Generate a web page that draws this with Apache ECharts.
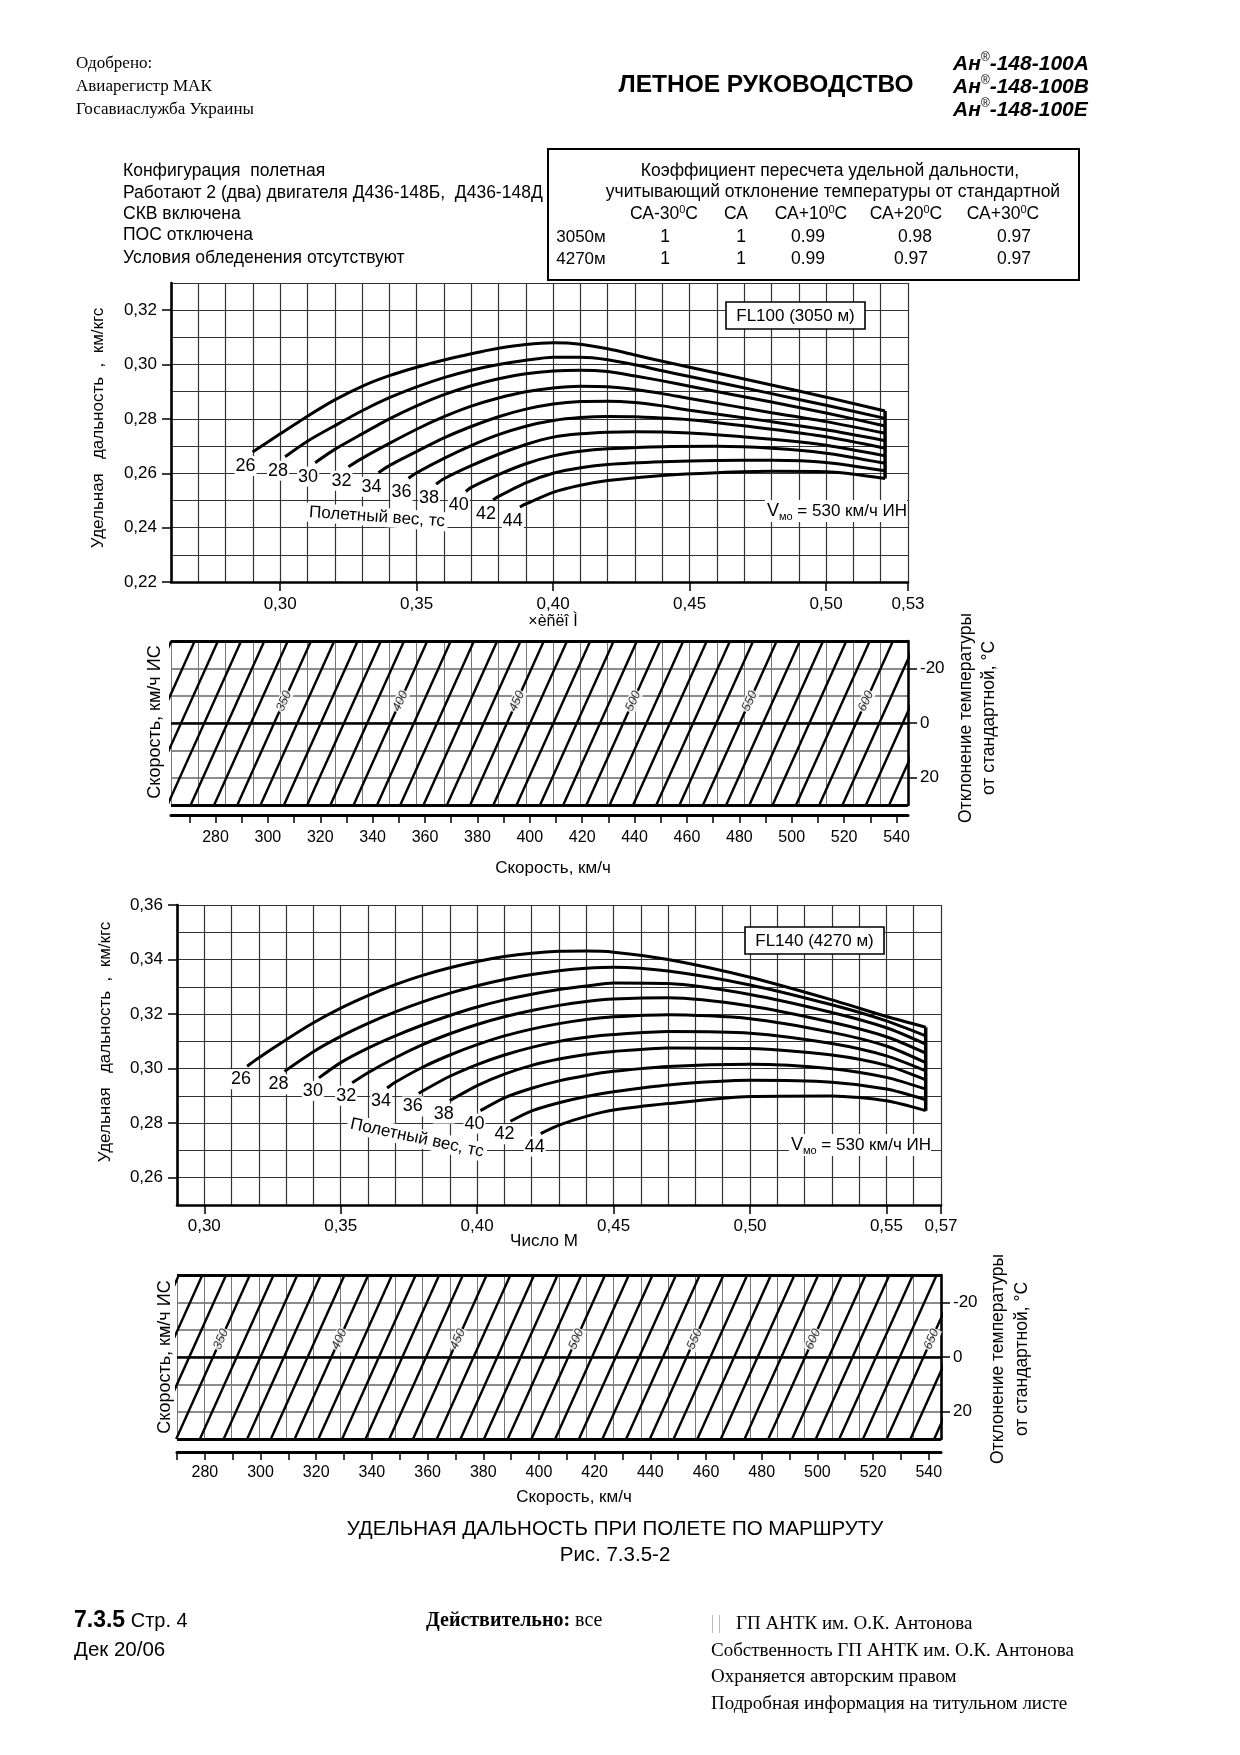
<!DOCTYPE html>
<html><head><meta charset="utf-8">
<script src="https://cdn.jsdelivr.net/npm/echarts@6/dist/echarts.min.js"></script>
<style>html,body{margin:0;padding:0;background:#fff}#c{width:1240px;height:1755px}</style>
</head><body><div id="c"></div>
<script>
// ---------- DATA ----------
const weightsTs = [26,28,30,32,34,36,38,40,42,44];

// FL100 (3050 m): [Mach, specific range km/kgf]
const fl100W26 = [[0.2899,0.2678],[0.30,0.2745],[0.31,0.2810],[0.32,0.2870],[0.33,0.2920],[0.34,0.2959],[0.35,0.2990],[0.36,0.3017],[0.37,0.3040],[0.38,0.3060],[0.39,0.3074],[0.40,0.3080],[0.41,0.3075],[0.42,0.3058],[0.43,0.3035],[0.44,0.3012],[0.45,0.2990],[0.48,0.2925],[0.50,0.2880],[0.5216,0.2829]];
const fl100W28 = [[0.3018,0.2661],[0.31,0.2718],[0.32,0.2775],[0.33,0.2830],[0.34,0.2878],[0.35,0.2918],[0.36,0.2952],[0.37,0.2979],[0.38,0.3000],[0.39,0.3016],[0.40,0.3027],[0.41,0.3027],[0.42,0.3018],[0.43,0.2999],[0.44,0.2977],[0.45,0.2956],[0.48,0.2893],[0.50,0.2850],[0.5216,0.2802]];
const fl100W30 = [[0.3128,0.2639],[0.32,0.2688],[0.33,0.2745],[0.34,0.2800],[0.35,0.2848],[0.36,0.2889],[0.37,0.2922],[0.38,0.2948],[0.39,0.2966],[0.40,0.2976],[0.41,0.2979],[0.42,0.2974],[0.43,0.2958],[0.44,0.2940],[0.45,0.2920],[0.48,0.2862],[0.50,0.2822],[0.5216,0.2774]];
const fl100W32 = [[0.3250,0.2624],[0.33,0.2655],[0.34,0.2710],[0.35,0.2762],[0.36,0.2808],[0.37,0.2847],[0.38,0.2877],[0.39,0.2900],[0.40,0.2914],[0.41,0.2920],[0.42,0.2918],[0.43,0.2908],[0.44,0.2893],[0.45,0.2875],[0.48,0.2823],[0.50,0.2790],[0.5216,0.2747]];
const fl100W34 = [[0.3360,0.2602],[0.34,0.2628],[0.35,0.2680],[0.36,0.2730],[0.37,0.2772],[0.38,0.2808],[0.39,0.2836],[0.40,0.2855],[0.41,0.2864],[0.42,0.2865],[0.43,0.2860],[0.44,0.2848],[0.45,0.2832],[0.48,0.2790],[0.50,0.2760],[0.5216,0.2720]];
const fl100W36 = [[0.3470,0.2582],[0.35,0.2602],[0.36,0.2655],[0.37,0.2702],[0.38,0.2742],[0.39,0.2773],[0.40,0.2794],[0.41,0.2805],[0.42,0.2809],[0.43,0.2808],[0.45,0.2797],[0.48,0.2762],[0.50,0.2734],[0.5216,0.2692]];
const fl100W38 = [[0.3571,0.2560],[0.36,0.2580],[0.37,0.2628],[0.38,0.2670],[0.39,0.2706],[0.40,0.2733],[0.41,0.2745],[0.42,0.2751],[0.43,0.2753],[0.45,0.2748],[0.48,0.2725],[0.50,0.2703],[0.5216,0.2664]];
const fl100W40 = [[0.3680,0.2533],[0.37,0.2548],[0.38,0.2595],[0.39,0.2635],[0.40,0.2664],[0.41,0.2681],[0.42,0.2690],[0.44,0.2698],[0.46,0.2699],[0.48,0.2692],[0.50,0.2674],[0.5216,0.2637]];
const fl100W42 = [[0.3780,0.2502],[0.38,0.2515],[0.39,0.2565],[0.40,0.2600],[0.41,0.2620],[0.42,0.2632],[0.44,0.2642],[0.46,0.2647],[0.48,0.2648],[0.50,0.2640],[0.5216,0.2609]];
const fl100W44 = [[0.3878,0.2476],[0.39,0.2487],[0.40,0.2530],[0.41,0.2556],[0.42,0.2573],[0.44,0.2592],[0.46,0.2602],[0.48,0.2607],[0.50,0.2606],[0.5216,0.2581]];

// FL140 (4270 m)
const fl140W26 = [[0.3157,0.3009],[0.32,0.3040],[0.33,0.3106],[0.34,0.3168],[0.35,0.3222],[0.36,0.3268],[0.37,0.3308],[0.38,0.3342],[0.39,0.3370],[0.40,0.3393],[0.41,0.3411],[0.42,0.3423],[0.43,0.3430],[0.44,0.3431],[0.45,0.3427],[0.47,0.3400],[0.50,0.3335],[0.53,0.3252],[0.55,0.3191],[0.5644,0.3152]];
const fl140W28 = [[0.3294,0.2990],[0.34,0.3062],[0.35,0.3118],[0.36,0.3166],[0.37,0.3208],[0.38,0.3245],[0.39,0.3277],[0.40,0.3304],[0.41,0.3327],[0.42,0.3345],[0.43,0.3359],[0.44,0.3368],[0.45,0.3372],[0.47,0.3358],[0.50,0.3307],[0.53,0.3234],[0.55,0.3175],[0.5644,0.3120]];
const fl140W30 = [[0.3420,0.2966],[0.35,0.3022],[0.36,0.3075],[0.37,0.3120],[0.38,0.3160],[0.39,0.3195],[0.40,0.3226],[0.41,0.3252],[0.42,0.3273],[0.43,0.3290],[0.44,0.3303],[0.45,0.3314],[0.47,0.3312],[0.50,0.3272],[0.53,0.3206],[0.55,0.3150],[0.5644,0.3090]];
const fl140W32 = [[0.3542,0.2948],[0.36,0.2985],[0.37,0.3040],[0.38,0.3088],[0.39,0.3128],[0.40,0.3162],[0.41,0.3190],[0.42,0.3213],[0.43,0.3232],[0.44,0.3246],[0.45,0.3255],[0.47,0.3260],[0.50,0.3230],[0.53,0.3170],[0.55,0.3117],[0.5644,0.3057]];
const fl140W34 = [[0.3670,0.2929],[0.37,0.2950],[0.38,0.3005],[0.39,0.3050],[0.40,0.3088],[0.41,0.3120],[0.42,0.3145],[0.43,0.3165],[0.44,0.3180],[0.45,0.3190],[0.47,0.3198],[0.50,0.3183],[0.53,0.3133],[0.55,0.3083],[0.5644,0.3022]];
const fl140W36 = [[0.3786,0.2909],[0.38,0.2918],[0.39,0.2972],[0.40,0.3015],[0.41,0.3050],[0.42,0.3078],[0.43,0.3100],[0.44,0.3115],[0.45,0.3125],[0.47,0.3136],[0.50,0.3130],[0.53,0.3092],[0.55,0.3047],[0.5644,0.2992]];
const fl140W38 = [[0.3900,0.2883],[0.40,0.2938],[0.41,0.2980],[0.42,0.3012],[0.43,0.3035],[0.44,0.3052],[0.45,0.3063],[0.47,0.3076],[0.50,0.3074],[0.53,0.3050],[0.55,0.3012],[0.5644,0.2959]];
const fl140W40 = [[0.4012,0.2846],[0.41,0.2893],[0.42,0.2928],[0.43,0.2955],[0.44,0.2975],[0.45,0.2990],[0.47,0.3008],[0.50,0.3016],[0.53,0.3000],[0.55,0.2968],[0.5644,0.2925]];
const fl140W42 = [[0.4122,0.2807],[0.42,0.2845],[0.43,0.2875],[0.44,0.2898],[0.45,0.2915],[0.47,0.2940],[0.50,0.2957],[0.53,0.2950],[0.55,0.2925],[0.5644,0.2886]];
const fl140W44 = [[0.4233,0.2762],[0.43,0.2793],[0.44,0.2825],[0.45,0.2848],[0.47,0.2872],[0.50,0.2898],[0.53,0.2900],[0.55,0.2882],[0.5644,0.2846]];

// true-speed isolines of the temperature nomograms: Mach at dT = -30 and dT = +30
const tasTop = [290,300,310,320,330,340,350,360,370,380,390,400,410,420,430,440,450,460,470,480,490,500,510,520,530,540,550,560,570,580,590,600,610,620,630];
const machTopMinus30 = [0.2601,0.2687,0.2772,0.2857,0.2942,0.3028,0.3113,0.3198,0.3284,0.3369,0.3454,0.3539,0.3625,0.3710,0.3795,0.3881,0.3966,0.4051,0.4136,0.4222,0.4307,0.4392,0.4477,0.4563,0.4648,0.4733,0.4819,0.4904,0.4989,0.5074,0.5160,0.5245,0.5330,0.5416,0.5501];
const machTopPlus30 = [0.2331,0.2417,0.2502,0.2587,0.2672,0.2758,0.2843,0.2928,0.3014,0.3099,0.3184,0.3269,0.3355,0.3440,0.3525,0.3611,0.3696,0.3781,0.3866,0.3952,0.4037,0.4122,0.4207,0.4293,0.4378,0.4463,0.4549,0.4634,0.4719,0.4804,0.4890,0.4975,0.5060,0.5146,0.5231];
const tasTopLabels = [350,400,450,500,550,600];

const tasBot = [320,330,340,350,360,370,380,390,400,410,420,430,440,450,460,470,480,490,500,510,520,530,540,550,560,570,580,590,600,610,620,630,640,650,660,670];
const machBotMinus30 = [0.2907,0.2993,0.3080,0.3167,0.3254,0.3341,0.3427,0.3514,0.3601,0.3688,0.3775,0.3861,0.3948,0.4035,0.4122,0.4209,0.4295,0.4382,0.4469,0.4556,0.4643,0.4729,0.4816,0.4903,0.4990,0.5077,0.5163,0.5250,0.5337,0.5424,0.5511,0.5597,0.5684,0.5771,0.5858,0.5945];
const machBotPlus30 = [0.2637,0.2723,0.2810,0.2897,0.2984,0.3071,0.3157,0.3244,0.3331,0.3418,0.3505,0.3591,0.3678,0.3765,0.3852,0.3939,0.4025,0.4112,0.4199,0.4286,0.4373,0.4459,0.4546,0.4633,0.4720,0.4807,0.4893,0.4980,0.5067,0.5154,0.5241,0.5327,0.5414,0.5501,0.5588,0.5675];
const tasBotLabels = [350,400,450,500,550,600,650];

// tick / label values
const machLabelsTop = [0.30,0.35,0.40,0.45,0.50,0.53];
const srLabelsTop = [0.22,0.24,0.26,0.28,0.30,0.32];
const machLabelsBot = [0.30,0.35,0.40,0.45,0.50,0.55,0.57];
const srLabelsBot = [0.26,0.28,0.30,0.32,0.34,0.36];
const tempLabels = [-20,0,20];
const speedTicks = [270,280,290,300,310,320,330,340,350,360,370,380,390,400,410,420,430,440,450,460,470,480,490,500,510,520,530,540];
const speedLabels = [280,300,320,340,360,380,400,420,440,460,480,500,520,540];

// ---------- CHART ----------
const F = "'Liberation Sans', Arial, sans-serif";
const FS = "'Liberation Serif', 'Times New Roman', serif";
const fmt2 = v => v.toFixed(2).replace('.', ',');

const fl100Curves = [fl100W26,fl100W28,fl100W30,fl100W32,fl100W34,fl100W36,fl100W38,fl100W40,fl100W42,fl100W44];
const fl140Curves = [fl140W26,fl140W28,fl140W30,fl140W32,fl140W34,fl140W36,fl140W38,fl140W40,fl140W42,fl140W44];

const G = [
  {left:171, top:283, width:737, height:299, min:0.26, max:0.53},
  {left:171, top:641, width:737, height:164, min:0.26, max:0.53},
  {left:171, top:814, width:737, height:1},
  {left:177, top:905, width:764, height:300, min:0.29, max:0.57},
  {left:177, top:1275, width:764, height:164, min:0.29, max:0.57},
  {left:177, top:1451, width:764, height:1}
];

function gridAxis(gi, min, max, interval, pos, color, width, extra) {
  return Object.assign({type:'value', gridIndex:gi, min, max, interval, position:pos,
    axisLine:{show:false}, axisTick:{show:false}, axisLabel:{show:false},
    splitLine:{show:true, lineStyle:{color, width}}}, extra||{});
}
function labelAxis(gi, min, max, pos, labels, fmt, margin, extra) {
  return Object.assign({type:'value', gridIndex:gi, min, max, position:pos,
    axisLine:{show:true, onZero:false, lineStyle:{color:'#000', width:2.6}},
    axisTick:{show:true, customValues:labels, length:9, lineStyle:{color:'#000', width:1.5}},
    axisLabel:{show:true, customValues:labels, formatter:fmt, fontFamily:F, fontSize:17, color:'#000', margin},
    splitLine:{show:false}}, extra||{});
}
function speedX(gi, min, max, margin) {
  return {type:'value', gridIndex:gi, min, max, position:'bottom',
    axisLine:{show:true, onZero:false, lineStyle:{color:'#000', width:3}},
    axisTick:{show:true, customValues:speedTicks, length:8, lineStyle:{color:'#000', width:1.5}},
    axisLabel:{show:true, customValues:speedLabels, fontFamily:F, fontSize:16, color:'#000', margin},
    splitLine:{show:false}};
}
function hiddenY(gi) {
  return {type:'value', gridIndex:gi, min:0, max:1, show:false};
}
const noFmt = v => String(v);

function curveSeries(curves, xi, yi, off) {
  const out = [];
  curves.forEach((pts, i) => {
    out.push({type:'line', xAxisIndex:xi, yAxisIndex:yi, data:pts, smooth:0.25, showSymbol:false, silent:true, z:5,
      lineStyle:{color:'#000', width:3},
      markPoint:{symbol:'circle', symbolSize:1, silent:true, itemStyle:{color:'rgba(0,0,0,0)'},
        data:[{coord:pts[0], value:weightsTs[i]}],
        label:{show:true, formatter:String(weightsTs[i]), offset:off, fontFamily:F, fontSize:18, color:'#000',
          backgroundColor:'#fff', padding:[1,1]}}});
  });
  const a = curves[0][curves[0].length-1];
  const b = curves[curves.length-1][curves[curves.length-1].length-1];
  out.push({type:'line', xAxisIndex:xi, yAxisIndex:yi, data:[a, b], showSymbol:false, silent:true, z:5,
    lineStyle:{color:'#000', width:3.5}});
  return out;
}

function hatchSeries(tas, cold, hot, labels, xi, yi, tLab, g) {
  const out = [];
  tas.forEach((v, i) => {
    const s = {type:'line', xAxisIndex:xi, yAxisIndex:yi, data:[[cold[i],-30],[hot[i],30]], showSymbol:false, silent:true, z:3,
      lineStyle:{color:'#000', width:2.4}};
    if (i === 0) {
      s.markLine = {symbol:'none', silent:true, label:{show:false}, lineStyle:{color:'#000', type:'solid'},
        data:[{yAxis:0, lineStyle:{width:2.6}}, {yAxis:-30, lineStyle:{width:3}}, {yAxis:30, lineStyle:{width:3}}]};
    }
    out.push(s);
  });
  const pxM = g.width/(g.max-g.min), pxT = g.height/60;
  const data = labels.map(v => {
    const i = tas.indexOf(v);
    const f = (tLab + 30)/60;
    const m = cold[i] + (hot[i]-cold[i])*f;
    const ang = Math.atan2(60*pxT, (cold[i]-hot[i])*pxM)*180/Math.PI;
    return {name:String(v), value:[m, tLab], label:{rotate:ang}};
  });
  out.push({type:'scatter', xAxisIndex:xi, yAxisIndex:yi, data, symbolSize:1, silent:true, z:6,
    itemStyle:{color:'rgba(0,0,0,0)'},
    label:{show:true, position:'inside', formatter:p => p.name, fontFamily:F, fontSize:12.5, fontStyle:'italic',
      color:'#000', backgroundColor:'#fff', padding:[0,1]}});
  return out;
}

// ----- graphic helpers -----
function T(x, y, text, o) {
  o = o || {};
  return {type:'text', x, y, rotation:o.rot||0, z:100, silent:true,
    style:Object.assign({text, fill:'#000', fontFamily:F, fontSize:17.5, align:'left', verticalAlign:'middle'}, o.style||{})};
}
const sup = {fontSize:11, verticalAlign:'top', lineHeight:19, fontFamily:F};
const nrm = {fontSize:17.5, lineHeight:19, fontFamily:F};
const hdrRich = {a:{fontSize:21, fontWeight:'bold', fontStyle:'italic', fontFamily:F, lineHeight:24}, r:{fontSize:12, fontStyle:'italic', verticalAlign:'top', lineHeight:20, fontFamily:F}};
const vmoRich = {v:{fontSize:18, lineHeight:22, fontFamily:F}, s:{fontSize:11, verticalAlign:'bottom', lineHeight:22, fontFamily:F}, t:{fontSize:17, lineHeight:22, fontFamily:F}};
const graphics = [
  // header
  T(76, 64, 'Одобрено:', {style:{fontFamily:FS, fontSize:17}}),
  T(76, 87, 'Авиарегистр МАК', {style:{fontFamily:FS, fontSize:17}}),
  T(76, 110, 'Госавиаслужба Украины', {style:{fontFamily:FS, fontSize:17}}),
  T(766, 85, 'ЛЕТНОЕ РУКОВОДСТВО', {style:{fontSize:24.5, fontWeight:'bold', align:'center'}}),
  T(953, 64, '{a|Ан}{r|®}{a|-148-100А}', {style:{rich:hdrRich}}),
  T(953, 87, '{a|Ан}{r|®}{a|-148-100В}', {style:{rich:hdrRich}}),
  T(953, 110, '{a|Ан}{r|®}{a|-148-100Е}', {style:{rich:hdrRich}}),
  // info block
  T(123, 171, 'Конфигурация  полетная'),
  T(123, 193, 'Работают 2 (два) двигателя Д436-148Б,  Д436-148Д'),
  T(123, 214, 'СКВ включена'),
  T(123, 235, 'ПОС отключена'),
  T(123, 258, 'Условия обледенения отсутствуют'),
  // table
  {type:'rect', shape:{x:548, y:149, width:531, height:131}, style:{fill:'none', stroke:'#000', lineWidth:2}, z:99, silent:true},
  T(830, 171, 'Коэффициент пересчета удельной дальности,', {style:{align:'center'}}),
  T(833, 192, 'учитывающий отклонение температуры от стандартной', {style:{align:'center'}}),
  T(664, 214, '{a|СА-30}{s|0}{a|С}', {style:{align:'center', rich:{a:nrm, s:sup}}}),
  T(736, 214, 'СА', {style:{align:'center'}}),
  T(811, 214, '{a|СА+10}{s|0}{a|С}', {style:{align:'center', rich:{a:nrm, s:sup}}}),
  T(906, 214, '{a|СА+20}{s|0}{a|С}', {style:{align:'center', rich:{a:nrm, s:sup}}}),
  T(1003, 214, '{a|СА+30}{s|0}{a|С}', {style:{align:'center', rich:{a:nrm, s:sup}}}),
  T(581, 237, '3050м', {style:{align:'center', fontSize:17}}),
  T(665, 237, '1', {style:{align:'center'}}), T(741, 237, '1', {style:{align:'center'}}),
  T(808, 237, '0.99', {style:{align:'center'}}), T(915, 237, '0.98', {style:{align:'center'}}), T(1014, 237, '0.97', {style:{align:'center'}}),
  T(581, 259, '4270м', {style:{align:'center', fontSize:17}}),
  T(665, 259, '1', {style:{align:'center'}}), T(741, 259, '1', {style:{align:'center'}}),
  T(808, 259, '0.99', {style:{align:'center'}}), T(911, 259, '0.97', {style:{align:'center'}}), T(1014, 259, '0.97', {style:{align:'center'}}),

  // top chart annotations
  {type:'rect', shape:{x:726, y:302, width:139, height:27}, style:{fill:'#fff', stroke:'#000', lineWidth:1.6}, z:99, silent:true},
  T(795.5, 316, 'FL100 (3050 м)', {style:{align:'center', fontSize:17}}),
  T(907, 511, '{v|V}{s|мо}{t| = 530 км/ч ИН}', {style:{align:'right', backgroundColor:'#fff', padding:[0,0,0,2], rich:vmoRich}}),
  T(377, 517, 'Полетный вес, тс', {rot:-4*Math.PI/180, style:{align:'center', fontSize:17, backgroundColor:'#fff', padding:[1,3]}}),
  T(553, 622, '×èñëî Ì', {style:{align:'center', fontSize:16}}),
  T(98, 428, 'Удельная   дальность  ,  км/кгс', {rot:Math.PI/2, style:{align:'center', fontSize:17}}),
  // top nomogram
  T(155, 722, 'Скорость, км/ч ИС', {rot:Math.PI/2, style:{align:'center', fontSize:18}}),
  T(966, 718, 'Отклонение температуры', {rot:Math.PI/2, style:{align:'center'}}),
  T(989, 718, 'от стандартной, °С', {rot:Math.PI/2, style:{align:'center'}}),
  T(553, 868, 'Скорость, км/ч', {style:{align:'center', fontSize:17}}),

  // bottom chart annotations
  {type:'rect', shape:{x:745, y:927, width:139, height:27}, style:{fill:'#fff', stroke:'#000', lineWidth:1.6}, z:99, silent:true},
  T(814.5, 941, 'FL140 (4270 м)', {style:{align:'center', fontSize:17}}),
  T(931, 1145, '{v|V}{s|мо}{t| = 530 км/ч ИН}', {style:{align:'right', backgroundColor:'#fff', padding:[0,0,0,2], rich:vmoRich}}),
  T(417, 1138, 'Полетный вес, тс', {rot:-12*Math.PI/180, style:{align:'center', fontSize:17, backgroundColor:'#fff', padding:[1,3]}}),
  T(544, 1241, 'Число М', {style:{align:'center', fontSize:17}}),
  T(105, 1042, 'Удельная   дальность  ,  км/кгс', {rot:Math.PI/2, style:{align:'center', fontSize:17}}),
  // bottom nomogram
  T(165, 1357, 'Скорость, км/ч ИС', {rot:Math.PI/2, style:{align:'center', fontSize:18}}),
  T(998, 1359, 'Отклонение температуры', {rot:Math.PI/2, style:{align:'center'}}),
  T(1022, 1359, 'от стандартной, °С', {rot:Math.PI/2, style:{align:'center'}}),
  T(574, 1497, 'Скорость, км/ч', {style:{align:'center', fontSize:17}}),

  // caption
  T(615, 1529, 'УДЕЛЬНАЯ ДАЛЬНОСТЬ ПРИ ПОЛЕТЕ ПО МАРШРУТУ', {style:{align:'center', fontSize:20.5}}),
  T(615, 1555, 'Рис. 7.3.5-2', {style:{align:'center', fontSize:20.5}}),

  // footer
  T(74, 1621, '{b|7.3.5}{n| Стр. 4}', {style:{rich:{b:{fontSize:23, fontWeight:'bold', fontFamily:F}, n:{fontSize:20, fontFamily:F}}}}),
  T(74, 1650, 'Дек 20/06', {style:{fontSize:20.5}}),
  T(426, 1621, '{b|Действительно:}{n| все}', {style:{rich:{b:{fontSize:20, fontWeight:'bold', fontFamily:FS}, n:{fontSize:20, fontFamily:FS}}}}),
  {type:'rect', shape:{x:712, y:1615, width:1, height:18}, style:{fill:'#bbb'}, silent:true},
  {type:'rect', shape:{x:719, y:1615, width:1, height:18}, style:{fill:'#bbb'}, silent:true},
  T(736, 1624, 'ГП АНТК им. О.К. Антонова', {style:{fontFamily:FS, fontSize:19}}),
  T(711, 1651, 'Собственность ГП АНТК им. О.К. Антонова', {style:{fontFamily:FS, fontSize:19}}),
  T(711, 1677, 'Охраняется авторским правом', {style:{fontFamily:FS, fontSize:19}}),
  T(711, 1704, 'Подробная информация на титульном листе', {style:{fontFamily:FS, fontSize:19}})
];

const option = {
  animation:false,
  backgroundColor:'#fff',
  grid:G.map(g => ({left:g.left, top:g.top, width:g.width, height:g.height, containLabel:false, show:false})),
  xAxis:[
    gridAxis(0, 0.26, 0.53, 0.01, 'bottom', '#333', 1.2),                       // 0
    labelAxis(0, 0.26, 0.53, 'bottom', machLabelsTop, fmt2, 14),                // 1
    gridAxis(1, 0.26, 0.53, 0.01, 'bottom', '#777', 1),                         // 2
    speedX(2, 263, 544.4, 15),                                                  // 3
    gridAxis(3, 0.29, 0.57, 0.01, 'bottom', '#333', 1.2),                       // 4
    labelAxis(3, 0.29, 0.57, 'bottom', machLabelsBot, fmt2, 13),                // 5
    gridAxis(4, 0.29, 0.57, 0.01, 'bottom', '#777', 1),                         // 6
    speedX(5, 270, 544.4, 13)                                                   // 7
  ],
  yAxis:[
    gridAxis(0, 0.22, 0.33, 0.01, 'left', '#333', 1.2),                         // 0
    labelAxis(0, 0.22, 0.33, 'left', srLabelsTop, fmt2, 14),                    // 1
    gridAxis(1, -30, 30, 10, 'right', '#666', 1.6, {inverse:true}),             // 2
    labelAxis(1, -30, 30, 'right', tempLabels, noFmt, 12, {inverse:true}),      // 3
    hiddenY(2),                                                                 // 4
    gridAxis(3, 0.25, 0.36, 0.01, 'left', '#333', 1.2),                         // 5
    labelAxis(3, 0.25, 0.36, 'left', srLabelsBot, fmt2, 14),                    // 6
    gridAxis(4, -30, 30, 10, 'right', '#666', 1.6, {inverse:true}),             // 7
    labelAxis(4, -30, 30, 'right', tempLabels, noFmt, 12, {inverse:true}),      // 8
    hiddenY(5)                                                                  // 9
  ],
  series:[].concat(
    curveSeries(fl100Curves, 1, 1, [-7,14]),
    hatchSeries(tasTop, machTopMinus30, machTopPlus30, tasTopLabels, 2, 3, -8, G[1]),
    [{type:'line', xAxisIndex:3, yAxisIndex:4, data:[]}, {type:'line', xAxisIndex:7, yAxisIndex:9, data:[]}],
    curveSeries(fl140Curves, 5, 6, [-6,13]),
    hatchSeries(tasBot, machBotMinus30, machBotPlus30, tasBotLabels, 6, 8, -6.5, G[4])
  ),
  graphic:graphics
};

const chart = echarts.init(document.getElementById('c'), null, {renderer:'canvas', width:1240, height:1755});
chart.setOption(option);
</script>
</body></html>
